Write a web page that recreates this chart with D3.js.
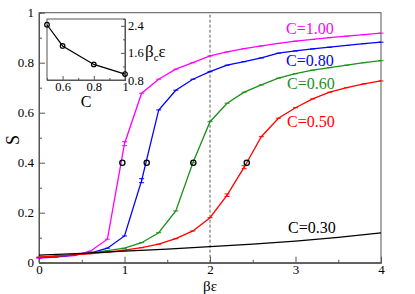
<!DOCTYPE html>
<html><head><meta charset="utf-8">
<script src="https://cdn.jsdelivr.net/npm/d3@7"></script>
<style>body{margin:0;background:#fff}</style>
</head><body><svg id="c" width="415" height="294"></svg>
<script>
const betaEps = [0,0.2,0.4,0.6,0.8,1.0,1.2,1.4,1.6,1.8,2.0,2.2,2.4,2.6,2.8,3.0,3.2,3.4,3.6,3.8,4.0];
const sC100 = [0.018,0.022,0.028,0.046,0.094,0.476,0.678,0.734,0.774,0.800,0.827,0.843,0.856,0.867,0.877,0.886,0.893,0.900,0.906,0.912,0.918];
const sC080 = [0.020,0.024,0.030,0.038,0.058,0.107,0.328,0.611,0.690,0.734,0.764,0.790,0.804,0.819,0.838,0.847,0.855,0.862,0.869,0.876,0.882];
const sC060 = [0.022,0.026,0.031,0.038,0.048,0.058,0.080,0.120,0.207,0.400,0.564,0.638,0.682,0.711,0.738,0.756,0.770,0.780,0.790,0.800,0.808];
const sC050 = [0.022,0.026,0.031,0.036,0.042,0.050,0.060,0.074,0.096,0.127,0.180,0.270,0.382,0.504,0.578,0.620,0.655,0.682,0.700,0.715,0.727];
const errC100 = [0,0,0,0,0,0.008,0,0,0,0,0,0,0,0,0,0,0,0,0,0,0];
const errC080 = [0,0,0,0,0,0,0.008,0,0,0,0,0,0,0,0,0,0,0,0,0,0];
const errC060 = [0,0,0,0,0,0,0,0,0,0,0,0,0,0,0,0,0,0,0,0,0];
const errC050 = [0,0,0,0,0,0,0,0,0,0,0,0.005,0.006,0,0,0,0,0,0,0,0];
const betaEps30 = [0,0.5,1.0,1.5,2.0,2.5,3.0,3.5,4.0];
const sC030 = [0.030,0.037,0.046,0.054,0.064,0.074,0.086,0.101,0.119];
const seriesLabels = ["C=1.00","C=0.80","C=0.60","C=0.50","C=0.30"];
const cValues = [0.5,0.6,0.8,1.0];
const betaC = [2.43,1.805,1.26,0.975];
const xTicks = [0,1,2,3,4];
const yTicks = [0,0.2,0.4,0.6,0.8,1];
const insetXTicks = [0.6,0.8,1];
const insetYTicks = [0.8,1.6,2.4];

const FONT = "Liberation Serif";
const svg = d3.select("#c");
const x = d3.scaleLinear([0,4],[39,381]);
const y = d3.scaleLinear([0,1],[262.7,12.7]);
const frameCol = "#555";
const colors = ["#ff00ff","#0000ff","#1a901a","#ff0000","#000000"];

svg.append("rect").attr("x",x(0)).attr("y",y(1)).attr("width",x(4)-x(0)).attr("height",y(0)-y(1))
  .attr("fill","none").attr("stroke",frameCol).attr("stroke-width",1);

svg.append("line").attr("x1",x(2)).attr("x2",x(2)).attr("y1",y(0)).attr("y2",y(1))
  .attr("stroke","#333").attr("stroke-width",0.8).attr("stroke-dasharray","3,2");

function txt(sel){ return sel.attr("font-family",FONT).style("font-family",`"${FONT}"`); }
function styleAxis(g, fs){
  g.attr("font-family",FONT);
  g.select(".domain").attr("stroke",frameCol);
  g.selectAll(".tick line").attr("stroke",frameCol);
  txt(g.selectAll("text").attr("font-size",fs).attr("fill","#000"));
}
const fmt = d => String(+(+d).toFixed(1));
svg.append("g").attr("transform",`translate(0,${y(0)})`)
  .call(d3.axisBottom(x).tickValues(d3.range(0.5,4,1)).tickSize(-3).tickFormat(""))
  .call(g=>styleAxis(g,13));
svg.append("g").attr("transform",`translate(0,${y(0)})`)
  .call(d3.axisBottom(x).tickValues(xTicks).tickSizeInner(-6).tickSizeOuter(0).tickPadding(2).tickFormat(fmt))
  .call(g=>styleAxis(g,13));
svg.append("g").attr("transform",`translate(${x(0)},0)`)
  .call(d3.axisLeft(y).tickValues(d3.range(0.1,1,0.2)).tickSize(-3).tickFormat(""))
  .call(g=>styleAxis(g,13));
svg.append("g").attr("transform",`translate(${x(0)},0)`)
  .call(d3.axisLeft(y).tickValues(yTicks).tickSizeInner(-6).tickSizeOuter(0).tickPadding(5).tickFormat(fmt))
  .call(g=>styleAxis(g,13));

const series = [
  {xs:betaEps, ys:sC100, err:errC100},
  {xs:betaEps, ys:sC080, err:errC080},
  {xs:betaEps, ys:sC060, err:errC060},
  {xs:betaEps, ys:sC050, err:errC050},
  {xs:betaEps30, ys:sC030, err:null}
];
const line = d3.line().x(d=>x(d[0])).y(d=>y(d[1]));
series.forEach((s,i)=>{
  const pts = s.xs.map((v,j)=>[v,s.ys[j],s.err?s.err[j]:0]);
  svg.append("path").datum(pts).attr("d",line).attr("fill","none")
    .attr("stroke",colors[i]).attr("stroke-width",1.3);
  if(s.err){
    const g = svg.append("g").attr("stroke",colors[i]).attr("stroke-width",1);
    pts.forEach(p=>{
      const cx = x(p[0]);
      const caps = p[2]>0 ? [p[1]-p[2],p[1]+p[2]] : [p[1]];
      caps.forEach(v=>g.append("line").attr("x1",cx-2.5).attr("x2",cx+2.5).attr("y1",y(v)).attr("y2",y(v)));
      if(p[2]>0) g.append("line").attr("x1",cx).attr("x2",cx).attr("y1",y(p[1]-p[2])).attr("y2",y(p[1]+p[2]));
    });
  }
});
svg.append("g").selectAll("circle").data(betaC).join("circle")
  .attr("cx",d=>x(d)).attr("cy",y(0.4)).attr("r",2.6)
  .attr("fill","none").attr("stroke","#000").attr("stroke-width",1.3);

const labelPos = [[286,34],[286,66],[287,89],[287,127],[288,232.5]];
seriesLabels.forEach((t,i)=>{
  txt(svg.append("text")).attr("x",labelPos[i][0]).attr("y",labelPos[i][1]).attr("font-size",16)
    .attr("fill",colors[i]).text(t);
});

txt(svg.append("text")).attr("transform","translate(19,140) rotate(-90)").attr("text-anchor","middle")
  .attr("font-size",18).text("S");
txt(svg.append("text")).attr("x",210).attr("y",290.5).attr("text-anchor","middle").attr("font-size",15).text("βε");

const ix = d3.scaleLinear([0.5,1],[47,125]);
const iy = d3.scaleLinear([0.8,2.6],[80,19]);
svg.append("rect").attr("x",ix(0.5)).attr("y",iy(2.6)).attr("width",ix(1)-ix(0.5)).attr("height",iy(0.8)-iy(2.6))
  .attr("fill","#fff").attr("stroke",frameCol).attr("stroke-width",1);
svg.append("g").attr("transform",`translate(0,${iy(0.8)})`)
  .call(d3.axisBottom(ix).tickValues([0.5,0.7,0.9]).tickSize(-2).tickFormat(""))
  .call(g=>styleAxis(g,12));
svg.append("g").attr("transform",`translate(0,${iy(0.8)})`)
  .call(d3.axisBottom(ix).tickValues(insetXTicks).tickSizeInner(-4).tickSizeOuter(0).tickPadding(2).tickFormat(fmt))
  .call(g=>styleAxis(g,12.5));
svg.append("g").attr("transform",`translate(${ix(1)},0)`)
  .call(d3.axisRight(iy).tickValues([1.2,2.0]).tickSize(-2).tickFormat(""))
  .call(g=>styleAxis(g,12));
svg.append("g").attr("transform",`translate(${ix(1)},0)`)
  .call(d3.axisRight(iy).tickValues(insetYTicks).tickSizeInner(-4).tickSizeOuter(0).tickPadding(3).tickFormat(fmt))
  .call(g=>styleAxis(g,12.5));
const ipts = cValues.map((c,i)=>[c,betaC[i]]);
svg.append("path").datum(ipts).attr("d",d3.line().x(d=>ix(d[0])).y(d=>iy(d[1])))
  .attr("fill","none").attr("stroke","#000").attr("stroke-width",1.2);
svg.append("g").selectAll("circle").data(ipts).join("circle")
  .attr("cx",d=>ix(d[0])).attr("cy",d=>iy(d[1])).attr("r",2.3)
  .attr("fill","none").attr("stroke","#000").attr("stroke-width",1.2);
txt(svg.append("text")).attr("x",86).attr("y",107).attr("text-anchor","middle").attr("font-size",16).text("C");
const bt = txt(svg.append("text")).attr("x",145).attr("y",57).attr("font-size",17);
bt.append("tspan").text("β");
bt.append("tspan").attr("font-size",11).attr("dy",4).text("c");
bt.append("tspan").attr("dy",-4).text("ε");
</script></body></html>
